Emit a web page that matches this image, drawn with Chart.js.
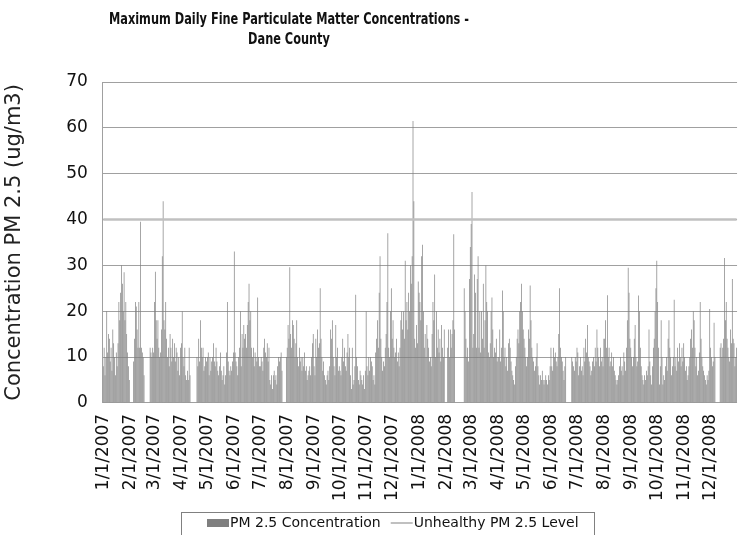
<!DOCTYPE html>
<html>
<head>
<meta charset="utf-8">
<script src="https://cdn.jsdelivr.net/npm/chart.js@4/dist/chart.umd.min.js"></script>
<style>
  html, body { margin: 0; padding: 0; background: #fff; overflow: hidden; }
  #wrap { width: 742px; height: 535px; }
</style>
</head>
<body>
<div id="wrap"><canvas id="pmChart" width="742" height="535"></canvas></div>
<script>
// Daily max PM 2.5 (ug/m3), one line per month, null = no reading
const pm2007 = [
    8, 12, 6, 10, 20, 11, 15, 14, 9, 12, 7, 16, 13, 10, 6, 11, 8, 13, 22, 18, 24, 30, 26, 20, 28.5, 18, 22, 15, 11, 8, 5,
    null, null, null, null, 9, 14, 22, 21, 16, 12, 22, 12, 39.5, 12, 11, 10, 6, null, null, null, null, null, null, 12, 11, 10, 12, 11,
    22, 28.6, 18, 14, 18, 12, 10, 11, 16, 32, 44, 18, 16, 22, 14, 10, 12, 8, 15, 12, 9, 14, 10, 13, 9, 12, 11, 7, 10, 6, 12,
    13, 20, 10, 8, 12, 6, 5, 7, 5, 12, 6, null, null, null, null, null, null, null, 10, 8, 14, 9, 18, 12, 10, 12, 7, 8, 10, 9,
    10, 11, 6, 10, 7, 9, 10, 13, 9, 8, 12, 9, 7, 6, 8, 11, 7, 5, 6, 8, 4, 6, 11, 22, 9, 7, 6, 8, 7, 9, 11,
    33, 11, 9, 8, 6, 10, 12, 20, 8, 15, 12, 17, 14, 15, 12, 17, 22, 26, 18, 20, 12, 10, 12, 8, 11, 10, 9, 23, 10, 8,
    8, 10, 9, 7, 12, 14, 11, 10, 13, 9, 12, 5, 4, 6, 3, 6, 7, 5, 6, 4, 8, 10, 9, 10, 11, 7, null, null, null, null, 10,
    12, 17, 14, 29.6, 15, 12, 18, 17, 14, 10, 13, 18, 10, 8, 12, 9, 10, 7, 10, 8, 11, 7, 8, 5, 6, 7, 8, 6, 10, 13, 15,
    8, 6, 14, 10, 16, 12, 13, 25, 14, 10, 7, 9, 6, 5, 4, 6, 7, 5, 8, 16, 14, 18, 10, 8, 6, 17, 10, 12, 7, 8,
    7, 6, 10, 14, 9, 12, 8, 7, 11, 15, 10, 12, 6, 3, 12, 4, 5, 8, 23.6, 10, 8, 5, 4, 7, 6, 5, 4, 6, 3, 7, 20,
    8, 6, 10, 7, 10, 9, 8, 5, 6, 4, 11, 14, 18, 12, 24, 32, 14, 10, 7, 9, 8, 12, 15, 22, 37, 12, 10, 20, 25, 14,
    18, 12, 10, 11, 14, 9, 11, 8, 12, 18, 20, 16, 20, 14, 31, 18, 22, 16, 24, 20, 30, 26, 32, 61.5, 44, 14, 12, 17, 13, 26.5, 24
];
const pm2008 = [
    22, 18, 32, 34.5, 20, 12, 15, 10, 17, 14, 12, 9, 10, 8, 15, 22, 18, 28, 10, 20, 12, 16, 11, 14, 9, 17, 12, 10, 16, null, null,
    null, 12, 16, 10, 16, 12, 15, 18, 36.8, 16, null, null, null, null, null, null, null, null, null, null, 25, 20, 14, 10, 12, 9, 27, 34, 39,
    46, 12, 15, 28, 24, 12, 27, 32, 12, 20, 11, 20, 14, 26, 12, 18, 30, 22, 20, 11, 10, 13, 20, 23, 16, 10, 12, 11, 14, 9, 10,
    10, 16, 9, 12, 24.5, 20, 10, 12, 8, 10, 7, 13, 14, 12, 9, 7, 6, 5, 4, 8, 10, 14, 16, 13, 20, 22, 26, 20, 16, 14,
    12, 10, 8, 10, 16, 14, 25.6, 18, 12, 10, 9, 7, 8, 10, 13, 8, 6, 4, 6, 5, 7, 5, 4, 5, 6, 5, 4, 6, 5, 8, 12,
    8, 7, 12, 10, 11, 9, 8, 10, 15, 25, 12, 10, 9, 7, 5, 8, 10, null, null, null, null, null, null, 10, 9, 8, 7, 10, 9, 12,
    11, 6, 8, 10, 7, 8, 6, 12, 9, 14, 11, 17, 10, 9, 8, 6, 7, 9, 10, 8, 12, 9, 16, 12, 10, 8, 12, 9, 10, 8, 14,
    14, 18, 12, 23.5, 10, 12, 8, 9, 11, 8, 10, 7, 6, 5, 4, 5, 6, 8, 10, 7, 8, 6, 11, 9, 7, 12, 18, 29.5, 24, 14, 12,
    10, 8, 10, 14, 17, 10, 8, 9, 23.4, 20, 12, 8, 6, 5, 4, 6, 5, 7, 6, 8, 16, 9, 6, 4, 8, 12, 14, 20, 25, 31,
    22, 12, 4, 8, 18, 10, 4, 6, 5, 8, 10, 7, 14, 18, 12, 10, 6, 8, 10, 22.5, 8, 10, 7, 12, 9, 13, 10, 8, 12, 9, 13,
    10, 7, 8, 5, 6, 8, 10, 14, 16, 12, 20, 18, 12, 8, 10, 6, 7, 11, 22, 14, 10, 8, 7, 6, 5, 4, 6, 5, 7, 20.5,
    12, 10, 8, 9, 17.5, 10, null, null, null, null, null, 12, 13, 10, 12, 14, 31.6, 18, 22, 14, 12, 10, 9, 16, 13, 27, 14, 13, 8, 10, 12
];
const unhealthyLevel = 40;
const firstDay = [2007, 0, 1];
const lastDay = [2008, 11, 31];
const titleLines = ['Maximum Daily Fine Particulate Matter Concentrations -', 'Dane County'];
const seriesNames = ['PM 2.5 Concentration', 'Unhealthy PM 2.5 Level'];
const yTitle = 'Concentration PM 2.5 (ug/m3)';

// one category per day, written like "1/1/2007"
const dayLabels = [];
for (let d = new Date(firstDay[0], firstDay[1], firstDay[2]); d <= new Date(lastDay[0], lastDay[1], lastDay[2]); d.setDate(d.getDate() + 1)) {
    dayLabels.push((d.getMonth() + 1) + '/' + d.getDate() + '/' + d.getFullYear());
}
const pmValues = pm2007.concat(pm2008);

const FONT = '"DejaVu Sans", sans-serif';
const TITLE_FONT = '"DejaVu Sans Condensed", "DejaVu Sans", sans-serif';
const barGrey = '#7f7f7f';
const lineGrey = '#c0c0c0';

// title and framed legend sit off-centre in the original, so they are drawn here
const decorations = {
    id: 'decorations',
    afterDraw(chart) {
        const ctx = chart.ctx;
        ctx.save();
        ctx.fillStyle = '#111';
        ctx.textAlign = 'center';
        ctx.textBaseline = 'middle';
        // original title face is tall and narrow: squeeze a 15px bold horizontally
        ctx.save();
        ctx.scale(0.84, 1);
        ctx.font = 'bold 15px ' + TITLE_FONT;
        titleLines.forEach(function (t, i) {
            ctx.fillText(t, 289 / 0.84, 20 + i * 20);
        });
        ctx.restore();

        ctx.strokeStyle = '#808080';
        ctx.lineWidth = 1;
        ctx.strokeRect(181.5, 512.5, 413, 40);

        ctx.font = '14px ' + FONT;
        ctx.textAlign = 'left';
        let x = 207;
        const y = 523;
        ctx.fillStyle = barGrey;
        ctx.fillRect(x, y - 4, 22, 8);
        x += 23;
        ctx.fillStyle = '#111';
        ctx.fillText(seriesNames[0], x, y);
        x += ctx.measureText(seriesNames[0]).width + 10;
        ctx.strokeStyle = lineGrey;
        ctx.lineWidth = 2;
        ctx.beginPath();
        ctx.moveTo(x, y);
        ctx.lineTo(x + 22, y);
        ctx.stroke();
        x += 23;
        ctx.fillText(seriesNames[1], x, y);
        ctx.restore();
    }
};

new Chart(document.getElementById('pmChart'), {
    data: {
        labels: dayLabels,
        datasets: [{
            type: 'line',
            label: seriesNames[1],
            data: dayLabels.map(function () { return unhealthyLevel; }),
            borderColor: lineGrey,
            borderWidth: 2.5,
            pointRadius: 0,
            order: 0
        }, {
            type: 'bar',
            label: seriesNames[0],
            data: pmValues,
            backgroundColor: barGrey,
            barPercentage: 1,
            categoryPercentage: 0.8,
            order: 1
        }]
    },
    options: {
        responsive: false,
        animation: false,
        devicePixelRatio: 1,
        layout: { padding: { top: 82, left: 2, right: 0, bottom: 23 } },
        plugins: {
            legend: { display: false },
            title: { display: false },
            tooltip: { enabled: false }
        },
        scales: {
            x: {
                type: 'category',
                offset: true,
                grid: { display: false, drawTicks: false },
                border: { display: false },
                ticks: {
                    autoSkip: false,
                    minRotation: 90,
                    maxRotation: 90,
                    padding: 11,
                    color: '#111',
                    font: { family: FONT, size: 17 },
                    callback: function (value) {
                        const label = this.getLabelForValue(value);
                        return label.split('/')[1] === '1' ? label : null;
                    }
                }
            },
            y: {
                min: 0,
                max: 70,
                grid: { color: '#a0a0a0', drawTicks: false },
                border: { color: '#a0a0a0' },
                ticks: {
                    stepSize: 10,
                    padding: 15,
                    color: '#111',
                    font: { family: FONT, size: 17 }
                },
                title: {
                    display: true,
                    text: yTitle,
                    color: '#222',
                    padding: { top: 0, bottom: 24 },
                    font: { family: FONT, size: 21 }
                }
            }
        }
    },
    plugins: [decorations]
});
</script>
</body>
</html>
